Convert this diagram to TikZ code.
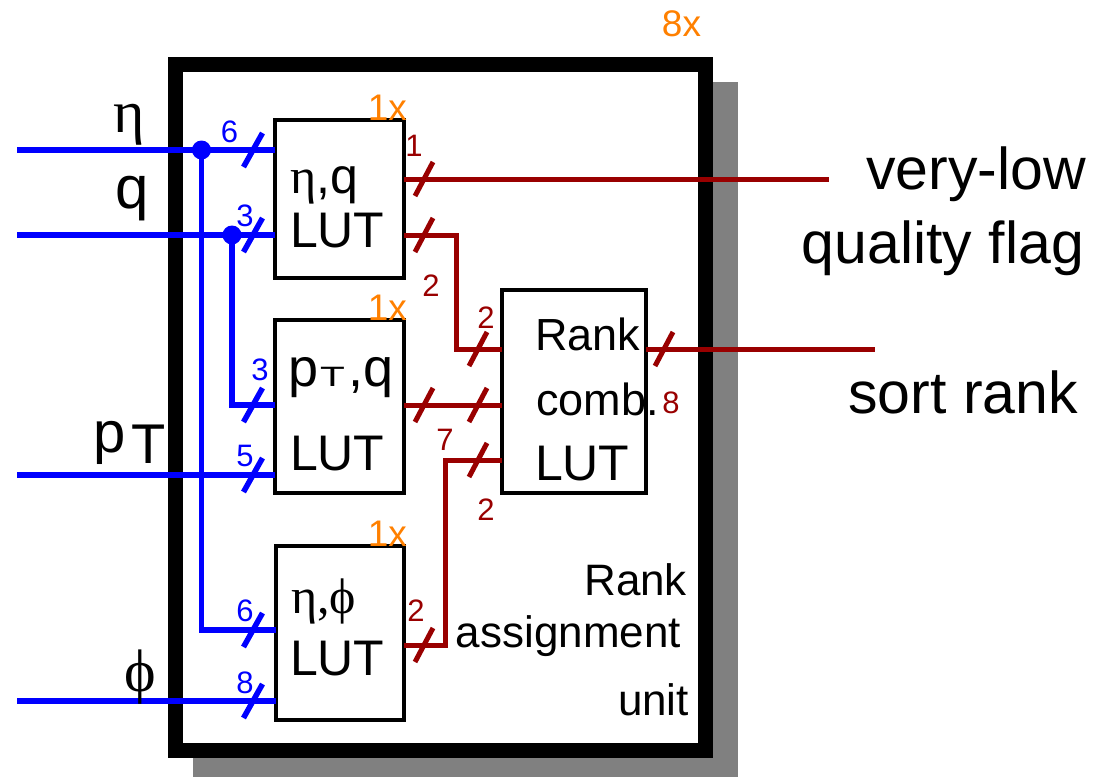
\documentclass[tikz,border=0pt]{standalone}
\usepackage{fontspec}
\setmainfont{Liberation Sans}
\newfontfamily\grk{Liberation Serif}
\definecolor{bl}{RGB}{0,0,255}
\definecolor{dr}{RGB}{153,0,0}
\definecolor{og}{RGB}{255,128,0}
\definecolor{sh}{RGB}{128,128,128}
\newcommand\fs[1]{\fontsize{#1}{#1}\selectfont}
\begin{document}
\begin{tikzpicture}[x=1pt,y=-1pt,
  lut/.style={draw=black,line width=4pt,fill=white,inner sep=0pt,outer sep=0pt},
  bwire/.style={draw=bl,line width=5.5pt},
  rwire/.style={draw=dr,line width=5pt},
  txt/.style={inner sep=0pt,outer sep=0pt},
  bnum/.style={txt,text=bl,font=\fs{31}},
  rnum/.style={txt,text=dr,font=\fs{31}},
  mult/.style={txt,text=og,font=\fs{37},anchor=base east},
  boxtxt/.style={txt,font=\fs{50},anchor=base west},
  bigtxt/.style={txt,font=\fs{59},anchor=base east},
  unittxt/.style={txt,font=\fs{44},anchor=base east},
  bsl/.pic={\draw[bwire] (-9.5,17) -- (9.5,-17);},
  rsl/.pic={\draw[rwire] (-9,17) -- (9,-17);},
]
\useasboundingbox (0,0) rectangle (1111,777);
% shadow and enclosing unit
\fill[sh] (193,82) rectangle (738,777);
\node[draw=black,line width=15pt,fill=white,minimum width=530pt,minimum height=686pt,inner sep=0pt,outer sep=0pt] (unit) at (440.5,407.5) {};
% LUT boxes
\node[lut,minimum width=129pt,minimum height=158pt] (etaq) at (339.5,199) {};
\node[lut,minimum width=129pt,minimum height=173pt] (ptq) at (339.5,406.5) {};
\node[lut,minimum width=128pt,minimum height=174pt] (etaphi) at (340,633) {};
\node[lut,minimum width=144pt,minimum height=203pt] (comb) at (574,391.5) {};
% coordinates
\coordinate (inEta) at (17,150);
\coordinate (inQ) at (17,235);
\coordinate (inPt) at (17,475);
\coordinate (inPhi) at (17,701);
\coordinate (dEta) at (201.5,150);
\coordinate (dQ) at (232,235);
\coordinate (yPtq) at (0,405);
\coordinate (yEphi) at (0,630);
\coordinate (vlq) at (829,179);
\coordinate (srk) at (875,349);
\coordinate (k1) at (456,235);
\coordinate (k2) at (445,645);
\coordinate (cB) at (0,405);
\coordinate (cC) at (0,460);
% blue inputs
\draw[bwire] (inEta) -- (inEta -| etaq.west);
\draw[bwire] (inQ) -- (inQ -| etaq.west);
\draw[bwire] (inPt) -- (inPt -| ptq.west);
\draw[bwire] (inPhi) -- (inPhi -| etaphi.west);
\draw[bwire] (dEta) |- (yEphi -| etaphi.west);
\draw[bwire] (dQ) |- (yPtq -| ptq.west);
\fill[bl] (dEta) circle (9.5pt);
\fill[bl] (dQ) circle (9.5pt);
% red wires
\draw[rwire] (etaq.east |- vlq) -- (vlq);
\draw[rwire] (etaq.east |- k1) -- (k1) |- (comb.west |- srk);
\draw[rwire] (ptq.east |- cB) -- (comb.west |- cB);
\draw[rwire] (etaphi.east |- k2) -- (k2) |- (comb.west |- cC);
\draw[rwire] (comb.east |- srk) -- (srk);
% bus slashes
\foreach \y in {150,235,405,475,630,701} \pic at (253,\y) {bsl};
\foreach \p in {(424,179),(424,235),(478,349),(424,405),(478,405),(478,460),(424,645),(664,349)} \pic at \p {rsl};
% blue widths
\node[bnum] (n1) at (229.5,131.5) {6};
\node[bnum] (n2) at (245,216) {3};
\node[bnum] (n3) at (260,370) {3};
\node[bnum] (n4) at (245,456) {5};
\node[bnum] (n5) at (245,611) {6};
\node[bnum] (n6) at (245,683) {8};
% red widths
\node[rnum] (m1) at (414,146) {1};
\node[rnum] (m2) at (431,286) {2};
\node[rnum] (m3) at (486,318) {2};
\node[rnum] (m4) at (445,440) {7};
\node[rnum] (m5) at (486,510) {2};
\node[rnum] (m6) at (671,403) {8};
\node[rnum] (m7) at (416,611) {2};
% multiplicities
\node[mult] (x1) at (407,120) {1x};
\node[mult] (x2) at (407,320) {1x};
\node[mult] (x3) at (407,546) {1x};
\node[txt,text=og,font=\fs{37},anchor=base] (x8) at (681.5,36) {8x};
% box texts
\node[boxtxt] (t1a) at (290,193) {{\grk η},q};
\node[boxtxt] (t1b) at (290,247) {LUT};
\node[boxtxt] (t2a) at (288,386) {{\fs{54}p}\hspace{2pt}\scalebox{1.45}[1]{\fs{28}T}\hspace{4pt}{\fs{54},q}};
\node[boxtxt] (t2b) at (290,470) {LUT};
\node[boxtxt] (t3a) at (291,613) {{\grk η,ϕ}};
\node[boxtxt] (t3b) at (290,675) {LUT};
\node[txt,font=\fs{45},anchor=base west] (c1) at (535,350) {Rank};
\node[txt,font=\fs{45},anchor=base west] (c2) at (536,415) {comb.};
\node[txt,font=\fs{50},anchor=base west] (c3) at (535,480) {LUT};
% unit caption
\node[unittxt] (u1) at (687,595) {Rank};
\node[unittxt] (u2) at (681,647) {assignment};
\node[unittxt] (u3) at (689,715) {unit};
% input labels
\node[txt,font=\grk\fs{60},anchor=base west] (lEta) at (113,132) {η};
\node[txt,font=\fs{60},anchor=base west] (lQ) at (115,208) {q};
\node[txt,anchor=base west] (lPt) at (93,452) {{\fs{58}p}\hspace{6pt}\raisebox{-11pt}{\fs{56}T}};
\node[txt,font=\grk\fs{60},anchor=base] (lPhi) at (140,691) {ϕ};
% output labels
\node[bigtxt] (o1) at (1086,189) {very-low};
\node[bigtxt] (o2) at (1084,263) {quality flag};
\node[bigtxt] (o3) at (1078,413) {sort rank};
\end{tikzpicture}
\end{document}
